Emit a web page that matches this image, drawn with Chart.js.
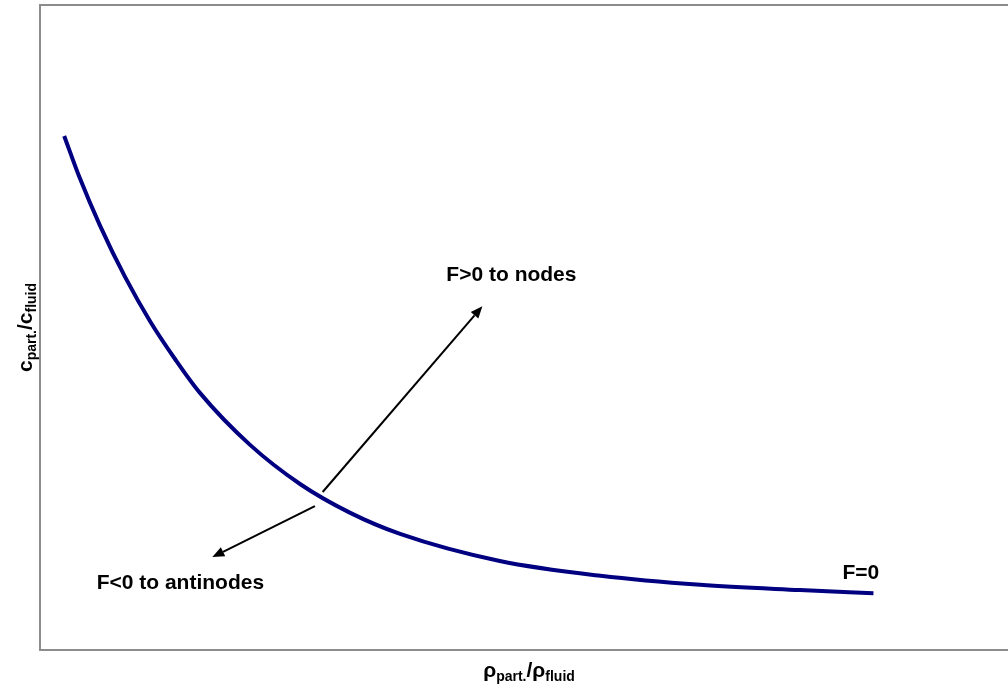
<!DOCTYPE html>
<html>
<head>
<meta charset="utf-8">
<script src="https://cdn.jsdelivr.net/npm/chart.js@4.4.1/dist/chart.umd.min.js"></script>
<style>
  html, body { margin: 0; padding: 0; background: #fff; }
  #wrap { width: 1008px; height: 687px; }
</style>
</head>
<body>
<div id="wrap"><canvas id="chart"></canvas></div>
<script>
// density ratio (x) and concentration ratio (y) along the F=0 curve
const densityRatio = [0.25, 0.41, 0.62, 0.88, 1.14, 1.40, 1.65, 2.17, 2.69, 3.20, 3.72, 4.75, 5.79, 6.82, 7.85, 8.61];
const concRatio    = [7.97, 7.32, 6.58, 5.78, 5.09, 4.50, 3.99, 3.18, 2.57, 2.13, 1.80, 1.38, 1.15, 1.01, 0.93, 0.88];

// force arrows: [x0, y0, x1, y1] in axis units
const arrows = [
  [2.92, 2.45, 4.57, 5.33],
  [2.84, 2.23, 1.78, 1.44]
];

const notes = [
  { text: 'F>0 to nodes', x: 4.87, y: 5.81 },
  { text: 'F<0 to antinodes', x: 1.45, y: 1.04 },
  { text: 'F=0', x: 8.48, y: 1.19 }
];

const FONT = '"Liberation Sans", Arial, sans-serif';

// draws main text followed by a subscript, returns total width
function subText(ctx, parts, x, y, measureOnly) {
  let w = 0;
  parts.forEach(p => {
    ctx.font = 'bold ' + (p.sub ? 14 : 21) + 'px ' + FONT;
    if (!measureOnly) ctx.fillText(p.t, x + w, y + (p.sub ? 4 : 0));
    w += ctx.measureText(p.t).width;
  });
  return w;
}

const decorations = {
  id: 'decorations',
  afterDatasetsDraw(chart) {
    const { ctx, chartArea: a, scales: { x, y } } = chart;
    ctx.save();

    // frame
    ctx.strokeStyle = '#8c8c8c';
    ctx.lineWidth = 2;
    ctx.beginPath();
    ctx.moveTo(a.right + 2, a.top);
    ctx.lineTo(a.left, a.top);
    ctx.lineTo(a.left, a.bottom);
    ctx.lineTo(a.right + 2, a.bottom);
    ctx.stroke();

    // arrows
    ctx.strokeStyle = '#000';
    ctx.fillStyle = '#000';
    ctx.lineWidth = 2;
    arrows.forEach(([x0, y0, x1, y1]) => {
      const px0 = x.getPixelForValue(x0), py0 = y.getPixelForValue(y0);
      const px1 = x.getPixelForValue(x1), py1 = y.getPixelForValue(y1);
      const ang = Math.atan2(py1 - py0, px1 - px0);
      const len = 12, half = 5;
      const bx = px1 - len * Math.cos(ang), by = py1 - len * Math.sin(ang);
      ctx.beginPath();
      ctx.moveTo(px0, py0);
      ctx.lineTo(bx, by);
      ctx.stroke();
      ctx.beginPath();
      ctx.moveTo(px1, py1);
      ctx.lineTo(bx + half * Math.sin(ang), by - half * Math.cos(ang));
      ctx.lineTo(bx - half * Math.sin(ang), by + half * Math.cos(ang));
      ctx.closePath();
      ctx.fill();
    });

    // labels
    ctx.font = 'bold 21px ' + FONT;
    ctx.textAlign = 'center';
    ctx.textBaseline = 'middle';
    notes.forEach(n => ctx.fillText(n.text, x.getPixelForValue(n.x), y.getPixelForValue(n.y)));

    // axis titles with subscripts
    ctx.textAlign = 'left';
    ctx.textBaseline = 'alphabetic';
    const xTitle = [{ t: 'ρ' }, { t: 'part.', sub: true }, { t: '/ρ' }, { t: 'fluid', sub: true }];
    const xw = subText(ctx, xTitle, 0, 0, true);
    subText(ctx, xTitle, (a.left + a.right) / 2 - xw / 2 + 5, a.bottom + 27);

    const yTitle = [{ t: 'c' }, { t: 'part.', sub: true }, { t: '/c' }, { t: 'fluid', sub: true }];
    const yw = subText(ctx, yTitle, 0, 0, true);
    ctx.translate(32, (a.top + a.bottom) / 2);
    ctx.rotate(-Math.PI / 2);
    subText(ctx, yTitle, -yw / 2, 0);

    ctx.restore();
  }
};

new Chart(document.getElementById('chart'), {
  type: 'line',
  data: {
    datasets: [{
      data: densityRatio.map((v, i) => ({ x: v, y: concRatio[i] })),
      borderColor: '#000080',
      borderWidth: 4,
      pointRadius: 0,
      cubicInterpolationMode: 'monotone',
      fill: false
    }]
  },
  options: {
    responsive: true,
    maintainAspectRatio: false,
    animation: false,
    layout: { padding: { left: 40, top: 5, right: 0, bottom: 37 } },
    plugins: { legend: { display: false }, tooltip: { enabled: false } },
    scales: {
      x: { type: 'linear', min: 0, max: 10, display: false },
      y: { type: 'linear', min: 0, max: 10, display: false }
    }
  },
  plugins: [decorations]
});
</script>
</body>
</html>
